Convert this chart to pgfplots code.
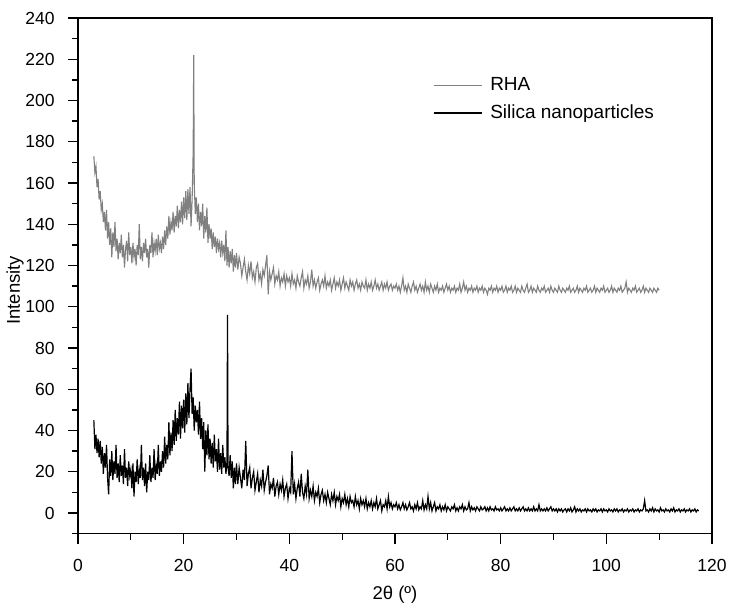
\documentclass[border=0pt]{standalone}
\usepackage{fontspec}
\setmainfont{Liberation Sans}
\usepackage{pgfplots}
\pgfplotsset{compat=1.18}
\definecolor{rhagray}{HTML}{808080}
\begin{document}
\fontsize{18.5pt}{22pt}\selectfont
\begin{tikzpicture}
\useasboundingbox (-78pt,-69.4pt) rectangle (651pt,533.6pt);
\begin{axis}[
  at={(0,0)}, anchor=south west,
  scale only axis, width=634pt, height=515.6pt,
  xmin=0, xmax=120, ymin=-10, ymax=240,
  xtick={0,20,...,120}, ytick={0,20,...,240},
  minor xtick={10,30,...,110}, minor ytick={-10,10,...,230},
  tick align=outside, xtick pos=bottom, ytick pos=left,
  major tick length=10pt, minor tick length=6pt,
  every tick/.style={black, line width=1.3pt},
  axis line style={line width=1.6pt},
  /pgf/number format/assume math mode=true,
  xticklabel={\fontsize{17.5pt}{21pt}\selectfont\pgfmathprintnumber{\tick}},
  yticklabel={\fontsize{17.5pt}{21pt}\selectfont\pgfmathprintnumber{\tick}},
  xticklabel style={yshift=-9pt},
  yticklabel style={xshift=-7pt},
  label style={font=\fontsize{18.5pt}{22pt}\selectfont},
  xlabel={2θ (º)}, ylabel={Intensity},
  xlabel style={at={(axis description cs:0.5,0)}, anchor=center, yshift=-61pt},
  ylabel style={at={(axis description cs:-0.0994,0.472)}, anchor=center},
  legend style={draw=none, fill=none, at={(0.555,0.893)}, anchor=north west,
    font=\fontsize{19pt}{22pt}\selectfont, row sep=7.5pt},
  legend cell align=left,
  legend image code/.code={\draw[#1] (0pt,0pt) -- (48pt,0pt); \path (54pt,0pt);},
]
\addplot[rhagray, line width=1.1pt] coordinates {
(3.0,173)(3.2,165)(3.4,168)(3.6,158)(3.8,162)(4.0,152)(4.2,156)(4.4,147)(4.6,150)(4.8,141)(5.0,146)
(5.2,137)(5.4,147)(5.6,133)(5.8,141)(6.0,130)(6.2,138)(6.4,124)(6.6,136)(6.8,129)(7.0,141)(7.2,127)(7.4,133)(7.6,123)(7.8,131)(8.0,126)(8.2,135)(8.4,124)(8.6,130)(8.8,119)(9.0,128)(9.2,132)(9.4,122)(9.6,136)(9.8,125)(10.0,129)
(10.2,121)(10.4,131)(10.6,124)(10.8,128)(11.0,120)(11.2,130)(11.4,125)(11.6,140)(11.8,123)(12.0,129)(12.2,122)(12.4,131)(12.6,126)(12.8,133)(13.0,124)(13.2,128)(13.4,119)(13.6,130)(13.8,126)(14.0,136)(14.2,124)(14.4,131)(14.6,127)(14.8,133)(15.0,125)(15.2,135)(15.4,128)(15.6,131)(15.8,126)(16.0,134)
(16.2,128)(16.4,137)(16.6,130)(16.8,139)(17.0,133)(17.2,144)(17.4,135)(17.6,141)(17.8,137)(18.0,146)(18.2,136)(18.4,144)(18.6,139)(18.8,149)(19.0,138)(19.2,147)(19.4,141)(19.6,151)(19.8,140)(20.0,153)(20.2,143)(20.4,156)(20.6,142)(20.8,157)(21.0,145)(21.2,158)(21.4,139)(21.6,152)(21.8,175)(21.9,222)(22.0,160)(22.2,145)(22.4,153)
(22.6,141)(22.8,150)(23.0,137)(23.2,146)(23.4,139)(23.6,150)(23.8,133)(24.0,144)(24.2,136)(24.4,148)(24.6,131)(24.8,140)(25.0,133)(25.2,138)(25.4,128)(25.6,136)(25.8,129)(26.0,134)(26.2,126)(26.4,133)(26.6,128)(26.8,131)(27.0,124)(27.2,132)(27.4,126)(27.6,130)(27.8,122)(28.0,137)(28.2,120)(28.4,129)(28.6,119)(28.8,127)(29.0,121)(29.2,128)(29.4,117)(29.6,125)(29.8,119)(30.0,126)
(30.25,118)(30.5,124)(30.75,121)(31,115)(31.25,119)(31.5,123)(31.75,117)(32,113)(32.25,120)(32.5,116)(32.75,122)(33,114)(33.25,117)(33.5,112)(33.75,119)(34,121)(34.25,113)(34.5,116)(34.75,111)(35,118)(35.25,115)(35.5,120)(35.75,125)(36,106)(36.25,117)(36.5,113)(36.75,116)(37,119)(37.25,111)(37.5,115)(37.75,113)(38,117)(38.25,110)(38.5,114)(38.75,112)(39,116)(39.25,110)(39.5,115)(39.75,112)(40,114)
(40.25,110)(40.5,116)(40.75,111)(41,113)(41.25,109)(41.5,115)(41.75,112)(42,110)(42.25,114)(42.5,117)(42.75,109)(43,113)(43.25,111)(43.5,115)(43.75,109)(44,112)(44.25,118)(44.5,110)(44.75,113)(45,109)(45.25,112)(45.5,114)(45.75,108)(46,111)(46.25,113)(46.5,110)(46.75,115)(47,109)(47.25,112)(47.5,110)(47.75,113)(48,108)(48.25,111)(48.5,114)(48.75,109)(49,112)(49.25,110)(49.5,113)(49.75,108)(50,111)
(50.25,114)(50.5,109)(50.75,112)(51,110)(51.25,108)(51.5,113)(51.75,110)(52,112)(52.25,108)(52.5,111)(52.75,113)(53,109)(53.25,111)(53.5,108)(53.75,112)(54,110)(54.25,109)(54.5,113)(54.75,108)(55,111)(55.25,109)(55.5,112)(55.75,108)(56,110)(56.25,113)(56.5,109)(56.75,111)(57,108)(57.25,110)(57.5,112)(57.75,108)(58,111)(58.25,109)(58.5,112)(58.75,108)(59,110)(59.25,111)(59.5,108)(59.75,110)(60,109)
(60.25,111)(60.5,108)(60.75,110)(61,107)(61.25,110)(61.5,114)(61.75,108)(62,110)(62.25,107)(62.5,111)(62.75,109)(63,107)(63.25,110)(63.5,112)(63.75,108)(64,110)(64.25,107)(64.5,109)(64.75,111)(65,108)(65.25,110)(65.5,107)(65.75,112)(66,108)(66.25,110)(66.5,107)(66.75,111)(67,109)(67.25,107)(67.5,110)(67.75,108)(68,111)(68.25,107)(68.5,109)(68.75,108)(69,110)(69.25,107)(69.5,109)(69.75,111)(70,108)
(70.25,110)(70.5,107)(70.75,109)(71,108)(71.25,110)(71.5,107)(71.75,109)(72,108)(72.25,111)(72.5,107)(72.75,109)(73,112)(73.25,108)(73.5,110)(73.75,107)(74,109)(74.25,108)(74.5,110)(74.75,107)(75,109)(75.25,108)(75.5,110)(75.75,107)(76,109)(76.25,108)(76.5,110)(76.75,107)(77,109)(77.25,108)(77.5,106)(77.75,109)(78,108)(78.25,110)(78.5,107)(78.75,109)(79,108)(79.25,110)(79.5,107)(79.75,109)
(80,108)(80.25,110)(80.5,107)(80.75,108)(81,110)(81.25,107)(81.5,109)(81.75,108)(82,110)(82.25,107)(82.5,108)(82.75,110)(83,107)(83.25,109)(83.5,108)(83.75,107)(84,110)(84.25,108)(84.5,107)(84.75,109)(85,111)(85.25,107)(85.5,108)(85.75,110)(86,107)(86.25,109)(86.5,108)(86.75,107)(87,110)(87.25,108)(87.5,107)(87.75,109)(88,108)(88.25,110)(88.5,107)(88.75,108)(89,109)(89.25,107)(89.5,110)(89.75,108)
(90,107)(90.25,109)(90.5,108)(90.75,107)(91,110)(91.25,108)(91.5,107)(91.75,109)(92,108)(92.25,107)(92.5,109)(92.75,108)(93,110)(93.25,107)(93.5,108)(93.75,109)(94,107)(94.25,108)(94.5,110)(94.75,107)(95,109)(95.25,108)(95.5,107)(95.75,109)(96,108)(96.25,110)(96.5,107)(96.75,108)(97,109)(97.25,107)(97.5,108)(97.75,110)(98,107)(98.25,109)(98.5,108)(98.75,107)(99,109)(99.25,108)(99.5,110)(99.75,107)
(100,108)(100.25,109)(100.5,107)(100.75,108)(101,110)(101.25,107)(101.5,109)(101.75,108)(102,107)(102.25,109)(102.5,108)(102.75,110)(103,107)(103.25,108)(103.5,109)(103.75,112)(104,107)(104.25,109)(104.5,108)(104.75,107)(105,109)(105.25,108)(105.5,110)(105.75,107)(106,108)(106.25,109)(106.5,107)(106.75,108)(107,110)(107.25,107)(107.5,109)(107.75,108)(108,107)(108.25,109)(108.5,108)(108.75,107)(109,109)(109.25,108)(109.5,107)(109.75,109)(110,108)
};
\addlegendentry{RHA}
\addplot[black, line width=1.2pt] coordinates {
(3.0,45)(3.2,31)(3.4,38)(3.6,29)(3.8,36)(4.0,27)(4.2,35)(4.4,24)(4.6,32)(4.8,19)(5.0,29)(5.2,22)(5.4,33)(5.6,17)(5.8,9)(6.0,26)(6.2,18)(6.4,30)(6.6,16)(6.8,25)(7.0,19)(7.2,33)(7.4,17)(7.6,24)(7.8,15)(8.0,28)(8.2,18)(8.4,23)(8.6,14)(8.8,31)(9.0,17)(9.2,22)(9.4,13)(9.6,25)(9.8,18)(10.0,21)
(10.2,12)(10.4,24)(10.6,8)(10.8,20)(11.0,15)(11.2,26)(11.4,14)(11.6,21)(11.8,17)(12.0,33)(12.2,16)(12.4,22)(12.6,13)(12.8,24)(13.0,10)(13.2,20)(13.4,16)(13.6,28)(13.8,15)(14.0,22)(14.2,17)(14.4,31)(14.6,16)(14.8,23)(15.0,19)(15.2,33)(15.4,18)(15.6,25)(15.8,20)(16.0,30)
(16.2,22)(16.4,37)(16.6,24)(16.8,33)(17.0,26)(17.2,44)(17.4,28)(17.6,39)(17.8,30)(18.0,45)(18.2,33)(18.4,50)(18.6,35)(18.8,46)(19.0,38)(19.2,54)(19.4,36)(19.6,52)(19.8,41)(20.0,55)(20.2,39)(20.4,58)(20.6,43)(20.8,63)(21.0,46)(21.2,60)(21.4,70)(21.6,48)(21.8,56)(22.0,40)
(22.2,52)(22.4,44)(22.6,50)(22.8,38)(23.0,54)(23.2,36)(23.4,46)(23.6,31)(23.8,44)(24.0,20)(24.2,40)(24.4,28)(24.6,43)(24.8,26)(25.0,36)(25.2,24)(25.4,34)(25.6,22)(25.8,38)(26.0,25)(26.2,31)(26.4,20)(26.6,36)(26.8,21)(27.0,29)(27.2,19)(27.4,33)(27.6,22)(27.8,27)(28.0,19)(28.2,25)(28.3,96)(28.4,22)(28.6,18)(28.8,28)(29.0,17)(29.2,25)(29.4,12)(29.6,22)(29.8,14)(30.0,24)
(30.25,14)(30.5,22)(30.75,17)(31,12)(31.25,21)(31.5,16)(31.75,35)(32,13)(32.25,19)(32.5,22)(32.75,12)(33,17)(33.25,20)(33.5,11)(33.75,15)(34,19)(34.25,10)(34.5,16)(34.75,13)(35,21)(35.25,11)(35.5,15)(35.75,18)(36,23)(36.25,9)(36.5,14)(36.75,12)(37,17)(37.25,8)(37.5,13)(37.75,15)(38,9)(38.25,14)(38.5,11)(38.75,16)(39,8)(39.25,12)(39.5,14)(39.75,7)(40,12)
(40.25,10)(40.5,30)(40.75,9)(41,14)(41.25,7)(41.5,12)(41.75,15)(42,8)(42.25,19)(42.5,10)(42.75,7)(43,13)(43.25,9)(43.5,21)(43.75,7)(44,11)(44.25,8)(44.5,13)(44.75,6)(45,10)(45.25,8)(45.5,12)(45.75,5)(46,9)(46.25,11)(46.5,6)(46.75,9)(47,5)(47.25,10)(47.5,7)(47.75,4)(48,9)(48.25,6)(48.5,10)(48.75,4)(49,8)(49.25,6)(49.5,9)(49.75,3)(50,7)
(50.25,5)(50.5,9)(50.75,4)(51,7)(51.25,3)(51.5,8)(51.75,5)(52,6)(52.25,3)(52.5,8)(52.75,4)(53,6)(53.25,2)(53.5,7)(53.75,4)(54,6)(54.25,3)(54.5,7)(54.75,2)(55,5)(55.25,3)(55.5,6)(55.75,2)(56,5)(56.25,3)(56.5,7)(56.75,2)(57,4)(57.25,6)(57.5,1)(57.75,4)(58,3)(58.25,6)(58.5,2)(58.75,8)(59,3)(59.25,5)(59.5,2)(59.75,4)(60,3)
(60.25,5)(60.5,2)(60.75,4)(61,1.5)(61.25,3)(61.5,5)(61.75,2)(62,4)(62.25,1.5)(62.5,3)(62.75,5)(63,2)(63.25,3)(63.5,1)(63.75,4)(64,2)(64.25,5)(64.5,1.5)(64.75,3)(65,2)(65.25,6)(65.5,1.5)(65.75,4)(66,2)(66.25,8)(66.5,2)(66.75,5)(67,1)(67.25,3)(67.5,5)(67.75,1)(68,3)(68.25,2)(68.5,4)(68.75,1)(69,3)(69.25,1.5)(69.5,4)(69.75,1)(70,3)
(70.25,2)(70.5,1)(70.75,3)(71,2)(71.25,4)(71.5,1)(71.75,2.5)(72,1)(72.25,3)(72.5,2)(72.75,4)(73,1)(73.25,3)(73.5,1.5)(73.75,2)(74,5)(74.25,1)(74.5,3)(74.75,1.5)(75,2.5)(75.25,1)(75.5,3)(75.75,2)(76,1)(76.25,3)(76.5,1.5)(76.75,2)(77,3)(77.25,1)(77.5,2.5)(77.75,1)(78,3)(78.25,1.5)(78.5,2)(78.75,1)(79,3)(79.25,1.5)(79.5,2)(79.75,1)
(80,2.5)(80.25,1)(80.5,2)(80.75,3)(81,1)(81.25,2)(81.5,1)(81.75,2.5)(82,1)(82.25,2)(82.5,3)(82.75,1)(83,2)(83.25,1)(83.5,2.5)(83.75,1)(84,2)(84.25,3)(84.5,1)(84.75,2)(85,1)(85.25,2.5)(85.5,1)(85.75,2)(86,1)(86.25,3)(86.5,1)(86.75,2)(87,1)(87.25,4)(87.5,1)(87.75,2)(88,1)(88.25,2)(88.5,1)(88.75,2.5)(89,1)(89.25,2)(89.5,3)(89.75,1)
(90,2)(90.25,1)(90.5,2)(90.75,0.5)(91,2)(91.25,1)(91.5,2)(91.75,0.5)(92,1.5)(92.25,2)(92.5,0.5)(92.75,2)(93,1)(93.25,2.5)(93.5,0.5)(93.75,1.5)(94,3)(94.25,0.5)(94.5,2)(94.75,1)(95,2)(95.25,0.5)(95.5,1.5)(95.75,1)(96,2)(96.25,0.5)(96.5,2)(96.75,1)(97,1.5)(97.25,0.5)(97.5,2)(97.75,1)(98,2)(98.25,0.5)(98.5,1.5)(98.75,1)(99,2)(99.25,0.5)(99.5,2)(99.75,1)
(100,1.5)(100.25,0.5)(100.5,2)(100.75,1)(101,1.5)(101.25,0.5)(101.5,2)(101.75,1)(102,2)(102.25,0.5)(102.5,1.5)(102.75,1)(103,2)(103.25,0.5)(103.5,1.5)(103.75,1)(104,2)(104.25,0.5)(104.5,1.5)(104.75,1)(105,2)(105.25,0.5)(105.5,1.5)(105.75,1)(106,2)(106.25,0.5)(106.5,1.5)(106.75,1)(107,2)(107.25,6)(107.5,1)(107.75,1.5)(108,0.5)(108.25,2)(108.5,1)(108.75,2.5)(109,0.5)(109.25,2)(109.5,1)(109.75,1.5)
(110,0.5)(110.25,2.5)(110.5,1)(110.75,1.5)(111,0.5)(111.25,2)(111.5,1)(111.75,1.5)(112,0.5)(112.25,2)(112.5,1)(112.75,2.5)(113,0.5)(113.25,1.5)(113.5,1)(113.75,2)(114,0.5)(114.25,1.5)(114.5,1)(114.75,2)(115,0.5)(115.25,1.5)(115.5,1)(115.75,2)(116,0.5)(116.25,1.5)(116.5,1)(116.75,2)(117,0.5)(117.25,1.5)(117.5,1)
};
\addlegendentry{Silica nanoparticles}
\end{axis}
\end{tikzpicture}
\end{document}
